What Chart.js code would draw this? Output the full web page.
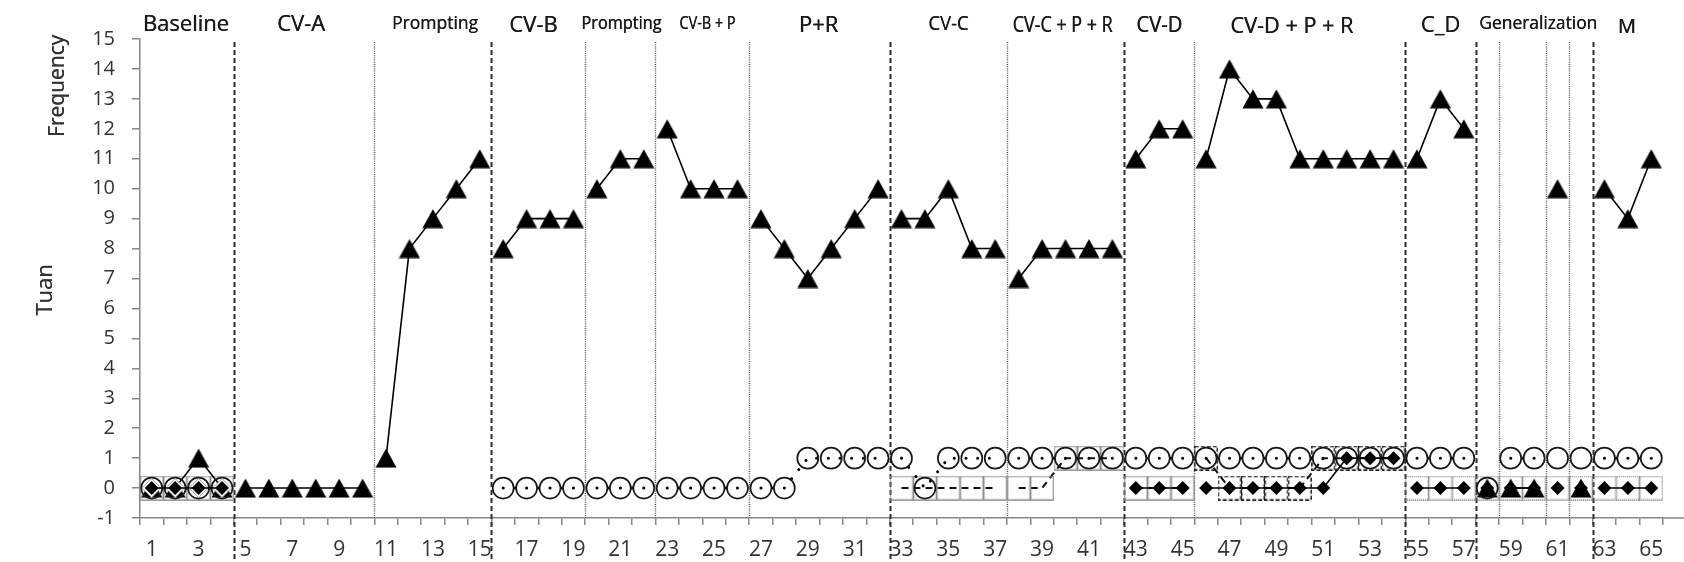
<!DOCTYPE html>
<html>
<head>
<meta charset="utf-8">
<title>Tuan – frequency by session</title>
<script src="https://cdn.jsdelivr.net/npm/chart.js@4.4.1/dist/chart.umd.min.js"></script>
<style>
  html, body { margin: 0; padding: 0; background: #ffffff; }
  #frame { position: relative; width: 1684px; height: 562px; }
</style>
</head>
<body>
<div id="frame"><canvas id="chart" width="1684" height="562"></canvas></div>
<script>
// Sessions along the x axis
const sessions = ['1','2','3','4','5','6','7','8','9','10',
  '11','12','13','14','15','16','17','18','19','20',
  '21','22','23','24','25','26','27','28','29','30',
  '31','32','33','34','35','36','37','38','39','40',
  '41','42','43','44','45','46','47','48','49','50',
  '51','52','53','54','55','56','57','58','59','60',
  '61','62','63','64','65'];

// Filled triangles (solid line)
const triangleFreq = [0,0,1,0, 0,0,0,0,0,0, 1,8,9,10,11, 8,9,9,9, 10,11,11, 12,10,10,10,
  9,8,7,8,9,10, 9,9,10,8,8, 7,8,8,8,8, 11,12,12, 11,14,13,13,11,11,11,11,11,
  11,13,12, 0,0,0,10,0, 10,9,11];

// Open circles (dotted line)
const circleFreq = [0,0,0,0, null,null,null,null,null,null, null,null,null,null,null,
  0,0,0,0, 0,0,0, 0,0,0,0, 0,0,1,1,1,1, 1,0,1,1,1, 1,1,1,1,1, 1,1,1,
  1,1,1,1,1,1,1,1,1, 1,1,1, 0,1,1,1,1, 1,1,1];

// Filled diamonds (solid line)
const diamondFreq = [0,0,0,0, null,null,null,null,null,null, null,null,null,null,null,
  null,null,null,null, null,null,null, null,null,null,null, null,null,null,null,null,null,
  null,null,null,null,null, null,null,null,null,null, 0,0,0,
  0,0,0,0,0,0,1,1,1, 0,0,0, 0,0,0,0,0, 0,0,0];

// Open diamonds
const openDiamondFreq = [0,0,0,0, null,null,null,null,null,null, null,null,null,null,null,
  null,null,null,null, null,null,null, null,null,null,null, null,null,null,null,null,null,
  null,null,null,null,null, null,null,null,null,null, null,null,null,
  null,null,null,null,null,null,null,null,null, null,null,null, null,null,null,null,null, null,null,null];

// Framed sessions (dashed line): solid grey, dashed black and dotted grey frames
const boxSolidFreq = [0,0,0,0, null,null,null,null,null,null, null,null,null,null,null,
  null,null,null,null, null,null,null, null,null,null,null, null,null,null,null,null,null,
  0,0,0,0,0, 0,0,1,1,1, 0,0,0,
  null,null,null,null,null,null,null,null,null, null,null,null, null,null,null,null,null, null,null,null];
const boxDashedFreq = [null,null,null,null, null,null,null,null,null,null, null,null,null,null,null,
  null,null,null,null, null,null,null, null,null,null,null, null,null,null,null,null,null,
  null,null,null,null,null, null,null,null,null,null, null,null,null,
  1,0,0,0,0,1,1,1,1, null,null,null, null,null,null,null,null, null,null,null];
const boxDottedFreq = [null,null,null,null, null,null,null,null,null,null, null,null,null,null,null,
  null,null,null,null, null,null,null, null,null,null,null, null,null,null,null,null,null,
  null,null,null,null,null, null,null,null,null,null, null,null,null,
  null,null,null,null,null,null,null,null,null, 0,0,0, 0,0,0,0,0, 0,0,0];

// Phase titles with their first and last session
const phaseTitles = ['Baseline','CV-A','Prompting','CV-B','Prompting','CV-B + P','P+R',
  'CV-C','CV-C + P + R','CV-D','CV-D + P + R','C_D','Generalization','M'];
const phaseFirstSession = [1,5,11,16,20,23,27,33,38,43,46,55,58,63];
const phaseLastSession  = [4,10,15,19,22,26,32,37,42,45,54,57,62,65];

// Phase change lines, drawn after these sessions
const changeAfter = [4,10,15,19,22,26,32,37,42,45,54,57,58,60,61,62];
const changeKind  = ['major','minor','major','minor','minor','minor','major','minor',
  'major','minor','major','major','minor','minor','minor','major'];

// Value axis range
const yMin = -1, yMax = 15;

// Title typography (size, max width, baseline, horizontal nudge)
const titleSize  = [22,22,18,22,18,18,22,20,22,22,22,22,18,20];
const titleWidth = [90,54,86,52,80,56,42,40,100,46,123,46,118,24];
const titleBase  = [31,31,29,31.5,29,29,31.5,29.5,31.5,31.5,32.5,31.5,28.5,33];
const titleShift = [-1,-3,2,-5,1,5,-1,0,-3,0,-8,0,4,-1];

const FONT = "'Open Sans', 'DejaVu Sans', sans-serif";
const AXIS_GREY = '#888888';
const TEXT_GREY = '#333333';

// A line segment is hidden when it crosses a phase change line
function crossesPhase(c) {
  const a = c.p0DataIndex + 1, b = c.p1DataIndex + 1;
  return changeAfter.some(s => s >= a && s < b);
}
const phaseSegments = { borderColor: c => crossesPhase(c) ? 'rgba(0,0,0,0)' : undefined };

function makeMark(w, h, paint) {
  const c = document.createElement('canvas');
  c.width = w; c.height = h;
  paint(c.getContext('2d'));
  return c;
}
const triangleMark = makeMark(22, 20, g => {
  g.fillStyle = '#000';
  g.beginPath();
  g.moveTo(11, 0.5); g.lineTo(21.5, 19.5); g.lineTo(0.5, 19.5);
  g.closePath(); g.fill();
});
function frameMark(color, width, dash) {
  return makeMark(24, 25, g => {
    g.strokeStyle = color; g.lineWidth = width; g.setLineDash(dash);
    g.strokeRect(0.75, 0.75, 22.5, 23.5);
  });
}

// Draws the given text with a faint second pass so it reads a little heavier
function heavyText(ctx, text, x, y, maxW) {
  ctx.fillText(text, x, y, maxW);
  ctx.fillText(text, x + 0.4, y, maxW);
}

const decorations = {
  id: 'decorations',
  beforeDatasetsDraw(chart) {
    const { ctx, scales: { x }, chartArea } = chart;
    ctx.save();
    changeAfter.forEach((s, i) => {
      const px = Math.round((x.getPixelForValue(s - 1) + x.getPixelForValue(s)) / 2) + 0.5;
      const major = changeKind[i] === 'major';
      ctx.beginPath();
      ctx.strokeStyle = major ? '#2e2e2e' : '#555555';
      ctx.lineWidth = major ? 2 : 1.4;
      ctx.setLineDash(major ? [5, 3] : [1, 1.2]);
      ctx.moveTo(px, chartArea.top + 3);
      ctx.lineTo(px, major ? chart.height : chartArea.bottom);
      ctx.stroke();
    });
    // category axis runs on to the right edge
    ctx.setLineDash([]);
    ctx.strokeStyle = AXIS_GREY;
    ctx.lineWidth = 1.5;
    ctx.beginPath();
    ctx.moveTo(chartArea.right, chartArea.bottom);
    ctx.lineTo(chart.width, chartArea.bottom);
    ctx.stroke();
    ctx.restore();
  },
  afterDraw(chart) {
    const { ctx, scales: { x } } = chart;
    const half = (x.getPixelForValue(1) - x.getPixelForValue(0)) / 2;
    ctx.save();
    ctx.fillStyle = '#1a1a1a';
    ctx.textAlign = 'center';
    ctx.textBaseline = 'alphabetic';
    phaseTitles.forEach((t, i) => {
      const l = x.getPixelForValue(phaseFirstSession[i] - 1) - half;
      const r = x.getPixelForValue(phaseLastSession[i] - 1) + half;
      ctx.font = titleSize[i] + 'px ' + FONT;
      heavyText(ctx, t, (l + r) / 2 + titleShift[i], titleBase[i], titleWidth[i]);
    });
    // value axis captions
    ctx.fillStyle = TEXT_GREY;
    ctx.save();
    ctx.translate(64, 86);
    ctx.rotate(-Math.PI / 2);
    ctx.font = '21px ' + FONT;
    heavyText(ctx, 'Frequency', 0, 0);
    ctx.restore();
    ctx.save();
    ctx.translate(52, 290);
    ctx.rotate(-Math.PI / 2);
    ctx.font = '22px ' + FONT;
    heavyText(ctx, 'Tuan', 0, 0);
    ctx.restore();
    ctx.restore();
  }
};

new Chart(document.getElementById('chart'), {
  type: 'line',
  data: {
    labels: sessions,
    datasets: [
      {
        label: 'framed', data: boxSolidFreq, order: 9,
        borderColor: '#111', borderWidth: 2, borderDash: [7, 5],
        pointStyle: frameMark('#8c8c8c', 1.2, []), pointRadius: 12,
        segment: phaseSegments
      },
      {
        label: 'framed (dashed)', data: boxDashedFreq, order: 8,
        borderColor: '#111', borderWidth: 2, borderDash: [7, 5],
        pointStyle: frameMark('#222222', 1.5, [4, 2]), pointRadius: 12,
        segment: phaseSegments
      },
      {
        label: 'framed (dotted)', data: boxDottedFreq, order: 7, showLine: false,
        pointStyle: frameMark('#7a7a7a', 1.5, [1, 1]), pointRadius: 12
      },
      {
        label: 'triangles', data: triangleFreq, order: 6,
        borderColor: '#000', borderWidth: 1.6,
        pointStyle: triangleMark, pointRadius: 11,
        segment: phaseSegments
      },
      {
        label: 'circles', data: circleFreq, order: 5,
        borderColor: '#000', borderWidth: 3, borderDash: [0.1, 11.6], borderCapStyle: 'round',
        pointStyle: 'circle', pointRadius: 10.5, pointBorderWidth: 1.7,
        pointBorderColor: '#1a1a1a', pointBackgroundColor: 'rgba(0,0,0,0)',
        segment: phaseSegments
      },
      {
        label: 'open diamonds', data: openDiamondFreq, order: 4, showLine: false,
        pointStyle: 'rectRot', pointRadius: 9.5, pointBorderWidth: 1,
        pointBorderColor: '#a0a0a0', pointBackgroundColor: '#ffffff'
      },
      {
        label: 'diamonds', data: diamondFreq, order: 3,
        borderColor: '#000', borderWidth: 1.6,
        pointStyle: 'rectRot', pointRadius: 7, pointBorderWidth: 0,
        pointBackgroundColor: '#000', pointBorderColor: '#000',
        segment: phaseSegments
      }
    ]
  },
  options: {
    responsive: false,
    devicePixelRatio: 1,
    animation: false,
    events: [],
    spanGaps: false,
    layout: { padding: { left: 0, top: 39, right: 21, bottom: 0 } },
    elements: { line: { tension: 0 } },
    plugins: { legend: { display: false }, tooltip: { enabled: false } },
    scales: {
      x: {
        type: 'category',
        offset: true,
        afterFit: s => { s.height = 44; },
        grid: { display: true, drawOnChartArea: false, drawTicks: true, tickLength: 7,
                offset: true, color: AXIS_GREY, lineWidth: 1.5 },
        border: { display: true, color: AXIS_GREY, width: 1.5 },
        ticks: {
          autoSkip: false, maxRotation: 0, minRotation: 0, padding: 12,
          color: TEXT_GREY, font: { family: FONT, size: 21 },
          callback: (v, i) => (i % 2 === 0 ? sessions[i] : '')
        }
      },
      y: {
        min: yMin, max: yMax,
        afterFit: s => { s.width = 140; },
        grid: { display: true, drawOnChartArea: false, drawTicks: true, tickLength: 8,
                color: AXIS_GREY, lineWidth: 1.5 },
        border: { display: true, color: AXIS_GREY, width: 1.5 },
        ticks: { stepSize: 1, padding: 17, color: TEXT_GREY, font: { family: FONT, size: 20 } }
      }
    }
  },
  plugins: [decorations]
});
</script>
</body>
</html>
